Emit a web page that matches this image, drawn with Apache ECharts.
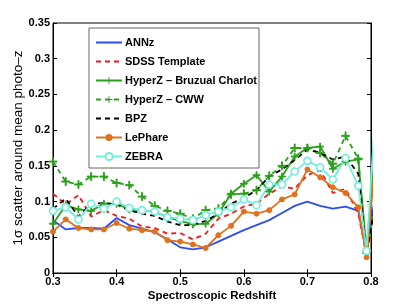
<!DOCTYPE html>
<html><head><meta charset="utf-8">
<script src="https://cdn.jsdelivr.net/npm/echarts@6/dist/echarts.min.js"></script>
<style>html,body{margin:0;padding:0;background:#fff}#c{width:409px;height:307px}</style>
</head><body><div id="c"></div>
<script>
const redshift = [0.30,0.32,0.34,0.36,0.38,0.40,0.42,0.44,0.46,0.48,0.50,0.52,0.54,0.56,0.58,0.60,0.62,0.64,0.66,0.68,0.70,0.72,0.74,0.76,0.78,0.793,0.81];
const annz    = [0.074,0.061,0.063,0.063,0.062,0.077,0.067,0.062,0.057,0.047,0.036,0.033,0.036,0.044,0.052,0.060,0.067,0.074,0.084,0.094,0.100,0.094,0.090,0.093,0.087,0.027,0.130];
const sdss    = [0.111,0.096,0.109,0.079,0.088,0.080,0.076,0.065,0.063,0.055,0.056,0.047,0.055,0.076,0.083,0.093,0.097,0.111,0.121,0.118,0.137,0.144,0.112,0.118,0.083,0.025,0.110];
const hyperzBC= [0.069,0.095,0.089,0.087,0.097,0.097,0.089,0.088,0.086,0.078,0.073,0.068,0.069,0.083,0.111,0.125,0.137,0.114,0.135,0.163,0.175,0.177,0.146,0.156,0.159,0.032,0.210];
const hyperzCWW=[0.156,0.128,0.124,0.135,0.135,0.126,0.123,0.107,0.094,0.087,0.083,0.076,0.088,0.090,0.110,0.111,0.116,0.136,0.150,0.175,0.175,0.168,0.153,0.192,0.160,0.028,0.110];
const bpz     = [0.090,0.104,0.079,0.097,0.098,0.096,0.088,0.083,0.080,0.072,0.067,0.067,0.073,0.083,0.097,0.105,0.116,0.135,0.145,0.158,0.173,0.168,0.159,0.163,0.139,0.030,0.110];
const lephare = [0.058,0.075,0.063,0.061,0.061,0.070,0.062,0.060,0.058,0.046,0.044,0.040,0.035,0.053,0.066,0.086,0.083,0.088,0.103,0.110,0.145,0.134,0.120,0.112,0.092,0.022,0.190];
const zebra   = [0.087,0.092,0.075,0.097,0.090,0.100,0.091,0.088,0.086,0.078,0.076,0.074,0.081,0.086,0.092,0.103,0.095,0.124,0.124,0.142,0.157,0.148,0.131,0.161,0.122,0.031,0.270];
const seriesNames = ['ANNz','SDSS Template','HyperZ \u2013 Bruzual Charlot','HyperZ \u2013 CWW','BPZ','LePhare','ZEBRA'];
const yTicks = [0,0.05,0.1,0.15,0.2,0.25,0.3,0.35];
const xTicks = [0.3,0.4,0.5,0.6,0.7,0.8];

const plus = 'path://M4.4,0 L5.6,0 L5.6,4.4 L10,4.4 L10,5.6 L5.6,5.6 L5.6,10 L4.4,10 L4.4,5.6 L0,5.6 L0,4.4 L4.4,4.4 Z';
function pts(v){ return redshift.map((x,i)=>[x,v[i]]); }
const F = 'Liberation Sans, Arial, Helvetica, sans-serif';
function mk(name, data, color, type, symbol, size, extra){
  return Object.assign({
    name, type:'line', data: pts(data), clip:true,
    symbol: symbol || 'none', symbolSize: size||1, showSymbol: !!symbol,
    lineStyle:{color, width:1.8, type: type||'solid'},
    itemStyle:{color, borderColor:color},
    animation:false, z:2
  }, extra||{});
}
const series = [
  mk(seriesNames[0], annz, '#2b4cf0'),
  mk(seriesNames[1], sdss, '#f01818', [5,4]),
  mk(seriesNames[2], hyperzBC, '#2ca01c', 'solid', plus, 7),
  mk(seriesNames[3], hyperzCWW, '#2ca01c', [5,4], plus, 8),
  mk(seriesNames[4], bpz, '#000000', [5,4]),
  mk(seriesNames[5], lephare, '#e0701c', 'solid', 'circle', 5),
  mk(seriesNames[6], zebra, '#70eedd', 'solid', 'circle', 7, {itemStyle:{color:'#ffffff', borderColor:'#70eedd', borderWidth:1.6}})
];
const hidden = {color:'rgba(0,0,0,0)', borderColor:'rgba(0,0,0,0)', borderWidth:0};
const legendData = seriesNames.map((n,i)=> (i===0||i===1||i===4) ? {name:n, itemStyle:hidden} : {name:n});
const chart = echarts.init(document.getElementById('c'), null, {renderer:'canvas'});
chart.setOption({
  animation:false,
  grid:{left:53, right:38, top:23, bottom:34, show:true, borderColor:'#000', borderWidth:1, outerBoundsMode:'none', containLabel:false},
  legend:{
    orient:'vertical', left:89, top:28, data:legendData,
    itemWidth:26, itemHeight:9, itemGap:8,
    padding:[9,2,6,6], backgroundColor:'#fff', borderColor:'#666', borderWidth:1,
    textStyle:{fontFamily:F, fontSize:11, fontWeight:'bold', color:'#000', padding:[0,0,0,-2]}
  },
  xAxis:[{
    type:'value', min:0.3, max:0.8, interval:0.1,
    name:'Spectroscopic Redshift', nameLocation:'middle', nameGap:17, nameMoveOverlap:false,
    nameTextStyle:{fontFamily:F, fontSize:11.5, fontWeight:'bold', color:'#000', verticalAlign:'top'},
    axisLine:{show:true, lineStyle:{color:'#000', width:1}},
    axisTick:{show:true, inside:true, length:4, lineStyle:{color:'#000'}},
    axisLabel:{fontFamily:F, fontSize:11, fontWeight:'bold', color:'#000', margin:3, formatter:v=>v.toFixed(1)},
    splitLine:{show:false}
  },{
    type:'value', min:0.3, max:0.8, interval:0.1, position:'top',
    axisLine:{show:true, lineStyle:{color:'#000'}},
    axisTick:{show:true, inside:true, length:4, lineStyle:{color:'#000'}},
    axisLabel:{show:false}, splitLine:{show:false}
  }],
  yAxis:[{
    type:'value', min:0, max:0.35, interval:0.05,
    name:'1\u03c3 scatter around mean photo\u2013z', nameLocation:'middle', nameGap:28, nameMoveOverlap:false,
    nameTextStyle:{fontFamily:F, fontSize:13.5, color:'#000'},
    axisLine:{show:true, lineStyle:{color:'#000', width:1}},
    axisTick:{show:true, inside:true, length:4, lineStyle:{color:'#000'}},
    axisLabel:{fontFamily:F, fontSize:11, fontWeight:'bold', color:'#000', margin:3,
      formatter:v=>{ const t=yTicks.find(k=>Math.abs(k-v)<1e-9); return String(t!==undefined?t:+v.toFixed(2)); }},
    splitLine:{show:false}
  },{
    type:'value', min:0, max:0.35, interval:0.05, position:'right',
    axisLine:{show:true, lineStyle:{color:'#000'}},
    axisTick:{show:true, inside:true, length:4, lineStyle:{color:'#000'}},
    axisLabel:{show:false}, splitLine:{show:false}
  }],
  series
});
</script></body></html>
